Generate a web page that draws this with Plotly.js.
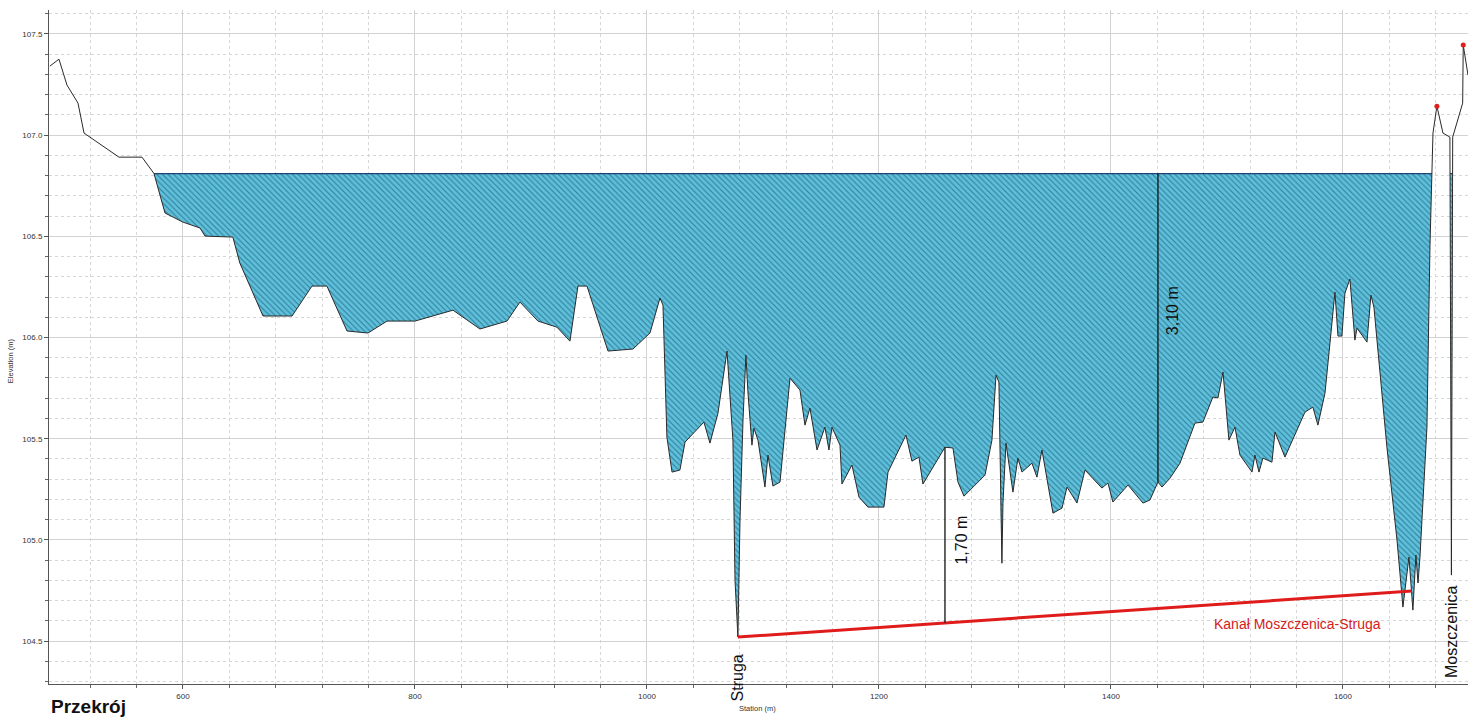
<!DOCTYPE html>
<html>
<head>
<meta charset="utf-8">
<script src="https://cdn.plot.ly/plotly-3.0.1.min.js"></script>
<style>
html,body{margin:0;padding:0;background:#fff;}
#chart{width:1471px;height:721px;}
</style>
</head>
<body>
<div id="chart"></div>
<script>
// ---- Terrain profile (station m, elevation m) ----
const station = [
  485.3, 493.1, 500.0, 509.5, 514.7, 544.8, 564.7, 575.0, 584.5, 600.0,
  614.7, 619.0, 643.0, 649.0, 669.0, 694.0, 711.2, 724.1, 741.4, 759.5,
  775.9, 800.0, 832.8, 856.0, 879.3, 890.5, 906.0, 922.4, 933.6, 940.5,
  948.3, 966.4, 987.9, 1002.6, 1011.2, 1013.8, 1017.2, 1021.6, 1028.4, 1032.8,
  1049.1, 1054.3, 1061.2, 1069.0, 1074.1, 1075.9, 1078.4, 1080.2, 1082.8, 1085.3,
  1087.1, 1090.5, 1092.2, 1095.7, 1101.7, 1104.3, 1108.6, 1114.7, 1123.3, 1131.9,
  1136.2, 1140.5, 1146.6, 1153.4, 1156.9, 1159.5, 1166.4, 1168.1, 1176.7, 1182.8,
  1190.5, 1204.3, 1207.8, 1223.3, 1228.4, 1234.5, 1237.9, 1256.9, 1263.8, 1268.1,
  1273.3, 1291.4, 1297.4, 1300.9, 1303.4, 1305.2, 1306.0, 1306.9, 1309.5, 1315.5,
  1319.8, 1323.3, 1331.9, 1336.2, 1340.5, 1350.0, 1357.8, 1362.1, 1370.7, 1377.6,
  1392.2, 1397.4, 1401.7, 1414.7, 1427.6, 1433.6, 1440.5, 1444.0, 1450.9, 1459.5,
  1472.4, 1479.3, 1487.9, 1492.2, 1496.6, 1501.7, 1506.9, 1511.2, 1521.6, 1524.1,
  1527.6, 1531.0, 1538.8, 1541.4, 1550.0, 1567.2, 1574.1, 1578.4, 1584.5, 1588.8,
  1593.1, 1595.7, 1599.1, 1601.7, 1606.0, 1610.3, 1612.1, 1620.7, 1624.1, 1626.7,
  1637.9, 1646.6, 1651.7, 1656.9, 1660.3, 1662.9, 1664.7, 1666.4, 1672.4, 1675.0,
  1676.7, 1677.6, 1681.0, 1686.2, 1692.2, 1693.5, 1694.6, 1695.1, 1703.2, 1703.7,
  1707.8
];
const elevation = [
  107.341, 107.375, 107.247, 107.158, 107.010, 106.891, 106.891, 106.810, 106.615, 106.570,
  106.541, 106.501, 106.496, 106.368, 106.106, 106.106, 106.254, 106.254, 106.032, 106.022,
  106.081, 106.081, 106.135, 106.042, 106.081, 106.175, 106.081, 106.051, 105.982, 106.254,
  106.254, 105.933, 105.943, 106.022, 106.195, 106.160, 105.508, 105.335, 105.345, 105.483,
  105.582, 105.478, 105.626, 105.933, 105.493, 104.801, 104.520, 105.098, 105.592, 105.913,
  105.725, 105.468, 105.552, 105.493, 105.261, 105.419, 105.266, 105.286, 105.799, 105.740,
  105.567, 105.651, 105.444, 105.557, 105.444, 105.557, 105.468, 105.276, 105.370, 105.211,
  105.162, 105.162, 105.335, 105.518, 105.389, 105.409, 105.276, 105.458, 105.454, 105.286,
  105.216, 105.320, 105.493, 105.814, 105.780, 105.034, 104.885, 105.182, 105.478, 105.236,
  105.404, 105.335, 105.379, 105.310, 105.444, 105.132, 105.157, 105.261, 105.182, 105.345,
  105.256, 105.281, 105.187, 105.271, 105.182, 105.197, 105.286, 105.261, 105.305, 105.379,
  105.577, 105.582, 105.706, 105.701, 105.829, 105.493, 105.557, 105.419, 105.335, 105.419,
  105.335, 105.404, 105.384, 105.533, 105.409, 105.631, 105.656, 105.567, 105.725, 105.972,
  106.224, 106.007, 106.007, 106.219, 106.289, 105.987, 106.046, 105.977, 106.209, 106.150,
  105.458, 104.999, 104.668, 104.915, 104.653, 104.925, 104.787, 104.915, 105.557, 106.447,
  106.810, 107.010, 107.143, 107.010, 106.990, 104.826, 106.990, 107.000, 107.158, 107.445,
  107.296
];
const waterLevel = 106.81;

// bank points marked in red
const bankStation = [1681.0, 1703.7];
const bankElevation = [107.143, 107.445];

// canal bottom line (Struga -> Moszczenica)
const canalStation = [1078.4, 1659.5];
const canalElevation = [104.52, 104.747];
const canalName = 'Kanał Moszczenica-Struga';

// depth markers
const depthText = ['1,70 m', '3,10 m'];
const depthStation = [1256.9, 1440.5];
const depthTop = [105.458, 106.81];
const depthBottom = [104.59, 105.286];

// point names
const pointNames = ['Struga', 'Moszczenica'];
const pointStation = [1078.4, 1694.0];
const pointElevation = [104.32, 104.55];

const chartTitle = 'Przekrój';
const xTitle = 'Station (m)';
const yTitle = 'Elevation (m)';

// ---- build water polygons (terrain below the water level) ----
function waterPolygons(xs, ys, wl) {
  const polys = [];
  let cur = null;
  for (let i = 0; i < xs.length; i++) {
    const below = ys[i] <= wl;
    if (i > 0) {
      const prevBelow = ys[i - 1] <= wl;
      if (below !== prevBelow) {
        const t = (wl - ys[i - 1]) / (ys[i] - ys[i - 1]);
        const xc = xs[i - 1] + t * (xs[i] - xs[i - 1]);
        if (below) {
          cur = {x: [xc], y: [wl]};
        } else if (cur) {
          cur.x.push(xc); cur.y.push(wl);
          polys.push(cur); cur = null;
        }
      }
    }
    if (below) {
      if (!cur) cur = {x: [], y: []};
      cur.x.push(xs[i]); cur.y.push(ys[i]);
    }
  }
  if (cur) polys.push(cur);
  return polys;
}
const polys = waterPolygons(station, elevation, waterLevel);
const fillX = [], fillY = [], surfX = [], surfY = [];
polys.forEach((p, k) => {
  if (k > 0) { fillX.push(null); fillY.push(null); }
  fillX.push(...p.x); fillY.push(...p.y);
  surfX.push(p.x[0], p.x[p.x.length - 1], null);
  surfY.push(waterLevel, waterLevel, null);
});

const depthX = [], depthY = [];
depthStation.forEach((s, i) => {
  depthX.push(s, s, null);
  depthY.push(depthTop[i], depthBottom[i], null);
});

const FONT = 'Liberation Sans, Arial, sans-serif';

const traces = [
  {
    x: fillX, y: fillY, mode: 'lines', fill: 'toself', connectgaps: false,
    line: {width: 0, color: 'rgba(0,0,0,0)'},
    fillcolor: '#5fc0dc',
    fillpattern: {shape: '\\', bgcolor: '#5fc0dc', fgcolor: '#317f98', size: 4, solidity: 0.28},
    hoverinfo: 'skip', showlegend: false
  },
  {
    x: surfX, y: surfY, mode: 'lines', connectgaps: false,
    line: {color: '#1f4173', width: 1.2},
    hoverinfo: 'skip', showlegend: false
  },
  {
    x: station, y: elevation, mode: 'lines',
    line: {color: '#2a2a2a', width: 1},
    showlegend: false
  },
  {
    x: canalStation, y: canalElevation, mode: 'lines',
    line: {color: '#e01b1b', width: 3},
    showlegend: false
  },
  {
    x: depthX, y: depthY, mode: 'lines', connectgaps: false,
    line: {color: '#111', width: 1.3},
    showlegend: false
  },
  {
    x: bankStation, y: bankElevation, mode: 'markers',
    marker: {color: '#e0201c', size: 5},
    showlegend: false
  }
];

const annotations = [
  {text: depthText[0], x: 1271.3, y: 105.0, xref: 'x', yref: 'y', textangle: -90, showarrow: false,
   font: {family: FONT, size: 16, color: '#111'}},
  {text: depthText[1], x: 1452.6, y: 106.135, xref: 'x', yref: 'y', textangle: -90, showarrow: false,
   font: {family: FONT, size: 16, color: '#111'}},
  {text: canalName, x: 1561.2, y: 104.585, xref: 'x', yref: 'y', showarrow: false,
   font: {family: FONT, size: 14, color: '#d42020'}},
  {text: pointNames[0], x: pointStation[0], y: pointElevation[0], xref: 'x', yref: 'y', textangle: -90, showarrow: false,
   font: {family: FONT, size: 16, color: '#111'}},
  {text: pointNames[1], x: pointStation[1], y: pointElevation[1], xref: 'x', yref: 'y', textangle: -90, showarrow: false,
   font: {family: FONT, size: 16, color: '#111'}},
  {text: '<b>' + chartTitle + '</b>', x: 0, y: -0.034, xref: 'paper', yref: 'paper', xanchor: 'left', yanchor: 'middle', showarrow: false,
   font: {family: FONT, size: 19, color: '#111'}},
  {text: xTitle, x: 0.499, y: -0.037, xref: 'paper', yref: 'paper', xanchor: 'center', yanchor: 'middle', showarrow: false,
   font: {family: FONT, size: 7.5, color: '#333'}},
  {text: yTitle, x: -0.027, y: 0.48, xref: 'paper', yref: 'paper', xanchor: 'center', yanchor: 'middle', textangle: -90, showarrow: false,
   font: {family: FONT, size: 7.5, color: '#333'}}
];

const layout = {
  width: 1471, height: 721,
  margin: {l: 49, r: 3, t: 10, b: 37, pad: 0},
  paper_bgcolor: '#ffffff', plot_bgcolor: '#ffffff',
  showlegend: false,
  font: {family: FONT, size: 8, color: '#333'},
  xaxis: {
    range: [484.5, 1707.8], tick0: 0, dtick: 200, zeroline: false,
    showgrid: true, gridcolor: '#d2d2d2', gridwidth: 1,
    showline: true, linecolor: '#555', linewidth: 1,
    ticks: 'outside', ticklen: 4, tickcolor: '#555',
    tickfont: {size: 8, color: '#333'},
    minor: {tick0: 0, dtick: 40, showgrid: true, gridcolor: '#d6d6d6', griddash: 'dot', gridwidth: 1,
            ticks: 'outside', ticklen: 3, tickcolor: '#666'}
  },
  yaxis: {
    range: [104.288, 107.618], tick0: 0, dtick: 0.5, tickformat: '.1f', zeroline: false,
    showgrid: true, gridcolor: '#d2d2d2', gridwidth: 1,
    showline: true, linecolor: '#555', linewidth: 1,
    ticks: 'outside', ticklen: 4, tickcolor: '#555',
    tickfont: {size: 8, color: '#333'},
    minor: {tick0: 0, dtick: 0.1, showgrid: true, gridcolor: '#d6d6d6', griddash: 'dot', gridwidth: 1,
            ticks: 'outside', ticklen: 3, tickcolor: '#666'}
  },
  annotations: annotations
};

Plotly.newPlot('chart', traces, layout, {displayModeBar: false, staticPlot: true});
</script>
</body>
</html>
